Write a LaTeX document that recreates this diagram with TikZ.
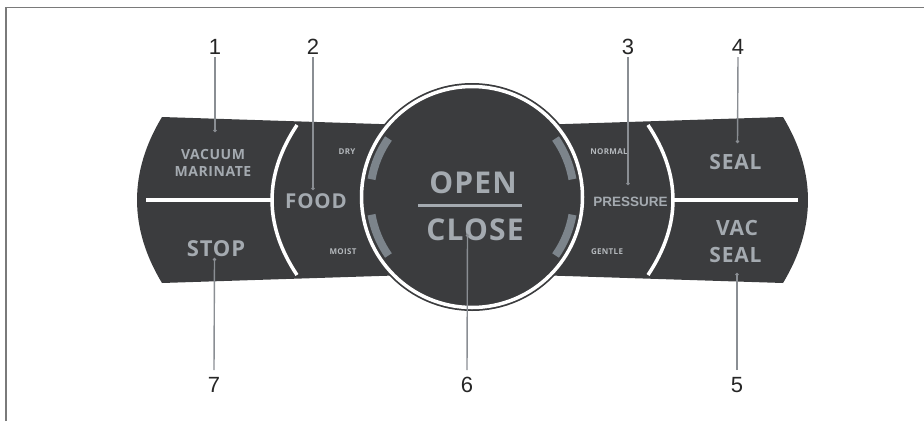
\documentclass[tikz,border=0pt]{standalone}
\usepackage{fontspec}
\setmainfont{Open Sans}
\newfontfamily\arialf{Liberation Sans}
\newfontfamily\lsf[LetterSpace=4]{Open Sans}
\usetikzlibrary{arrows.meta}
\definecolor{panel}{HTML}{3B3C3E}
\definecolor{txt}{HTML}{A4AAB0}
\definecolor{smalltxt}{HTML}{B4B8BC}
\definecolor{garc}{HTML}{7C848B}
\definecolor{lead}{HTML}{8A8E93}
\definecolor{framec}{HTML}{7A7A7A}
\newcommand{\fs}[1]{\fontsize{#1}{#1}\selectfont}
\begin{document}
\begin{tikzpicture}[x=1pt,y=-1pt,
  btxt/.style={text=txt, font=\lsf\bfseries, inner sep=0pt, anchor=base},
  stxt/.style={text=smalltxt, font=\lsf\bfseries\fs{8}, inner sep=0pt, anchor=base},
  num/.style={text=black!85, font=\arialf\fs{22}, inner sep=0pt, anchor=base},
  leader/.style={draw=lead, line width=1.4pt, -{Circle[length=3pt]}},
  sep/.style={draw=white, line width=4pt},
  garcst/.style={draw=garc, line width=8pt}]
\useasboundingbox (0,0) rectangle (924,421);
% frame
\draw[framec, line width=1.5pt] (6,421) -- (6,7.5) -- (924,7.5);
% panel
\fill[panel] (162,117) -- (472,127) -- (783,117)
  .. controls (816.3,172) and (816.3,228) .. (783,283)
  -- (472,273) -- (162,283)
  .. controls (128.7,228) and (128.7,172) .. (162,117) -- cycle;
% white separators
\draw[sep] (146,200) -- (272,200);
\draw[sep] (673,200) -- (798,200);
\draw[white, line width=3.5pt] (297,125) .. controls (263.7,175) and (263.7,225) .. (297,275);
\draw[white, line width=3.5pt] (648,125) .. controls (681.3,175) and (681.3,225) .. (648,275);
% circle
\coordinate (c) at (472,197);
\fill[panel] (c) circle (114);
\draw[white, line width=3.5pt] (c) circle (110.5);
\draw[garcst] ([shift={(145:102)}]c) arc[start angle=145, end angle=170, radius=102];
\draw[garcst] ([shift={(190:102)}]c) arc[start angle=190, end angle=215, radius=102];
\draw[garcst] ([shift={(10:102)}]c) arc[start angle=10, end angle=35, radius=102];
\draw[garcst] ([shift={(-35:102)}]c) arc[start angle=-35, end angle=-10, radius=102];
% texts
\node[btxt, font=\lsf\bfseries\fs{14}] (vac) at (213,159) {VACUUM};
\node[btxt, font=\lsf\bfseries\fs{14}] (mar) at (213,176) {MARINATE};
\node[btxt, font=\lsf\bfseries\fs{22}] (stop) at (216,256) {STOP};
\node[btxt, font=\lsf\bfseries\fs{20.5}] (food) at (316,208) {FOOD};
\node[stxt] (dry) at (347,154) {DRY};
\node[stxt] (moist) at (343,254) {MOIST};
\node[btxt, font=\lsf\bfseries\fs{30}] (open) at (473,193) {OPEN};
\node[btxt, font=\lsf\bfseries\fs{30}] (close) at (475,240) {CLOSE};
\draw[draw=txt, line width=3pt] (418,205) -- (522,205);
\node[stxt] (normal) at (609,154) {NORMAL};
\node[stxt] (gentle) at (607,254) {GENTLE};
\node[btxt, font=\arialf\bfseries\fs{13.5}] (press) at (630.5,206) {PRESSURE};
\node[btxt, font=\lsf\bfseries\fs{21}] (seal) at (735.5,169) {SEAL};
\node[btxt, font=\lsf\bfseries\fs{21}] (vacs) at (737,235) {VAC};
\node[btxt, font=\lsf\bfseries\fs{21}] (seal2) at (735.5,262) {SEAL};
% numbers
\node[num] (n1) at (215,54) {1};
\node[num] (n2) at (313,54) {2};
\node[num] (n3) at (628,54) {3};
\node[num] (n4) at (738,54) {4};
\node[num] (n7) at (214,392) {7};
\node[num] (n6) at (467,392) {6};
\node[num] (n5) at (737,392) {5};
\coordinate (d1) at (215,132);
\coordinate (d2) at (313,190);
\coordinate (d3) at (628,185);
\coordinate (d4) at (737.5,143);
\coordinate (d7) at (214.5,258);
\coordinate (d6) at (467.5,234);
\coordinate (d5) at (737,273);
\draw[leader] (n1.north |- 0,57) -- (d1);
\draw[leader] (n2.north |- 0,57) -- (d2);
\draw[leader] (n3.north |- 0,57) -- (d3);
\draw[leader] (n4.north |- 0,57) -- (d4);
\draw[leader] (n7.north |- 0,370) -- (d7);
\draw[leader] (n6.north |- 0,370) -- (d6);
\draw[leader] (n5.north |- 0,370) -- (d5);
\end{tikzpicture}
\end{document}
